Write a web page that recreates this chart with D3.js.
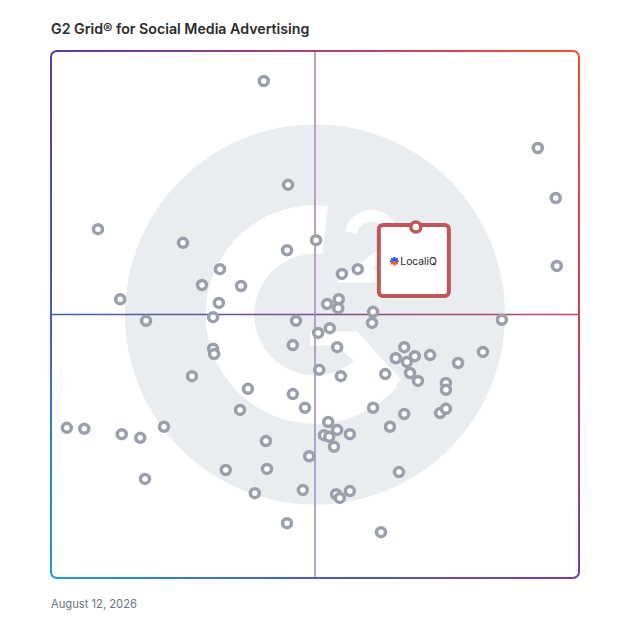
<!DOCTYPE html>
<html><head><meta charset="utf-8">
<script src="https://cdn.jsdelivr.net/npm/d3@7"></script>
<style>html,body{margin:0;padding:0;background:#fff;} svg{display:block;}</style>
</head><body><svg id="c" width="628" height="628"></svg>
<script>
const chartTitle = "G2 Grid® for Social Media Advertising";
const dateLabel = "August 12, 2026";
// x = satisfaction score, y = market presence score (0-100)
const satisfaction = [40.3,44.9,8.9,25.0,44.7,50.2,32.0,28.6,36.0,31.8,13.1,18.0,30.7,46.4,
  92.2,95.6,95.8,58.1,55.1,54.5,52.3,54.4,61.0,85.4,60.8,
  52.8,50.6,30.7,30.9,45.8,54.2,50.8,26.7,37.3,45.8,48.1,35.8,3.0,6.3,13.4,16.9,21.4,40.7,48.9,
  17.8,33.1,40.9,38.6,47.7,44.7,66.9,65.3,68.9,71.8,67.4,77.1,81.8,54.9,63.3,68.0,69.5,74.8,74.8,
  61.0,66.9,73.7,74.8,64.2,52.5,51.7,54.2,52.7,56.6,53.6,65.9,54.0,54.7,56.6,62.5];
const marketPresence = [94.3,74.6,66.2,63.6,62.2,64.1,58.6,55.6,55.4,52.2,52.9,48.8,49.5,48.8,
  81.6,72.1,59.2,58.6,57.7,52.9,52.0,51.2,50.5,49.0,48.4,
  47.4,46.5,43.5,42.5,44.2,43.8,39.5,38.3,35.9,34.9,32.3,31.9,28.5,28.3,27.3,26.6,28.7,26.0,23.1,
  18.8,20.5,20.7,16.1,16.7,10.4,43.8,41.7,42.1,42.3,41.0,40.8,42.9,38.3,38.7,38.9,37.4,37.0,35.7,
  32.3,31.1,31.3,32.1,28.7,29.6,27.1,28.1,26.8,27.3,24.9,20.1,15.9,15.2,16.5,8.7];
const highlightName = "LocaliQ";
const highlightSatisfaction = 69.1;
const highlightPresence = 66.6;

const points = satisfaction.map((s, i) => ({x: s, y: marketPresence[i]}));

const svg = d3.select("#c");
const x = d3.scaleLinear().domain([0, 100]).range([51, 579]);
const y = d3.scaleLinear().domain([0, 100]).range([578, 51]);
const L = x(0), R = x(100), T = y(100), B = y(0);
const cx = x(50), cy = y(50);

const defs = svg.append("defs");
function lg(id, x1, y1, x2, y2, stops) {
  const g = defs.append("linearGradient").attr("id", id).attr("gradientUnits", "userSpaceOnUse")
    .attr("x1", x1).attr("y1", y1).attr("x2", x2).attr("y2", y2);
  stops.forEach(([o, c]) => g.append("stop").attr("offset", o).attr("stop-color", c));
}
const cTL = "#5a3aa8", cTR = "#ff4b2b", cBR = "#7c3ca6", cBL = "#2299dc";
lg("gTop", L, T, R, T, [[0, cTL], [0.5, "#ab3f7c"], [1, cTR]]);
lg("gBot", L, B, R, B, [[0, cBL], [0.5, "#4a5cbc"], [1, cBR]]);
lg("gLeft", L, T, L, B, [[0, cTL], [0.5, "#3c63bc"], [1, cBL]]);
lg("gRight", R, T, R, B, [[0, cTR], [0.5, "#c9404e"], [1, cBR]]);
lg("gH", L, cy, R, cy, [[0, "#3b60b8"], [0.5, "#7c4a8c"], [1, "#c6455a"]]);
lg("gV", cx, T, cx, B, [[0, "#b47ea8"], [1, "#958ccc"]]);

// Title and date
svg.append("text").attr("x", 51).attr("y", 34).text(chartTitle)
  .attr("font-family", "Inter, 'Noto Sans', sans-serif").attr("font-weight", 600)
  .attr("font-size", 14.2).attr("fill", "#2b2b2b");
svg.append("text").attr("x", 51).attr("y", 608).text(dateLabel)
  .attr("font-family", "Inter, 'Noto Sans', sans-serif").attr("font-size", 11.2)
  .attr("fill", "#6b7280");

// Watermark (G2 logo)
const wm = svg.append("g");
const Rw = (R - L) * 0.36;
wm.append("circle").attr("cx", cx).attr("cy", cy).attr("r", Rw).attr("fill", "#eaedf0");
wm.append("path").attr("transform", `translate(${cx},${cy})`)
  .attr("d", d3.arc()({innerRadius: Rw * 0.32, outerRadius: Rw * 0.575, startAngle: 2.3, endAngle: 2 * Math.PI + 0.12}))
  .attr("fill", "#fff");
const bar = [[-5, 17], [42, 17], [86, 65], [74, 79], [22, 31], [-5, 31]];
wm.append("path").attr("transform", `translate(${cx},${cy})`)
  .attr("d", d3.line()(bar) + "Z").attr("fill", "#fff");
wm.append("path").attr("transform", `translate(${cx},${cy})`)
  .attr("d", "M36,-82 A21,21 0 1 1 74,-66 L38,-38 L92,-38")
  .attr("fill", "none").attr("stroke", "#fff").attr("stroke-width", 12);

// Mid lines
svg.append("line").attr("x1", L).attr("x2", R).attr("y1", cy).attr("y2", cy)
  .attr("stroke", "url(#gH)").attr("stroke-width", 1.5);
svg.append("line").attr("x1", cx).attr("x2", cx).attr("y1", T).attr("y2", B)
  .attr("stroke", "url(#gV)").attr("stroke-width", 1.5);

// Frame
const r = 6, sw = 2;
svg.append("path").attr("d", `M${L},${T + r} A${r},${r} 0 0 1 ${L + r},${T} H${R - r} A${r},${r} 0 0 1 ${R},${T + r}`)
  .attr("fill", "none").attr("stroke", "url(#gTop)").attr("stroke-width", sw);
svg.append("path").attr("d", `M${L},${B - r} A${r},${r} 0 0 0 ${L + r},${B} H${R - r} A${r},${r} 0 0 0 ${R},${B - r}`)
  .attr("fill", "none").attr("stroke", "url(#gBot)").attr("stroke-width", sw);
svg.append("path").attr("d", `M${L},${T + r} V${B - r}`)
  .attr("fill", "none").attr("stroke", "url(#gLeft)").attr("stroke-width", sw);
svg.append("path").attr("d", `M${R},${T + r} V${B - r}`)
  .attr("fill", "none").attr("stroke", "url(#gRight)").attr("stroke-width", sw);

// Points
svg.append("g").selectAll("circle").data(points).join("circle")
  .attr("cx", d => x(d.x)).attr("cy", d => y(d.y)).attr("r", 4.5)
  .attr("fill", "#fff").attr("stroke", "#9aa0ab").attr("stroke-width", 3.5);

// Highlighted product
const hx = x(highlightSatisfaction), hy = y(highlightPresence);
const hg = svg.append("g");
hg.append("rect").attr("x", hx - 37).attr("y", hy - 2).attr("width", 70).attr("height", 71)
  .attr("rx", 4).attr("fill", "#fff").attr("stroke", "#bf5759").attr("stroke-width", 4);
hg.append("circle").attr("cx", hx).attr("cy", hy).attr("r", 5)
  .attr("fill", "#fff").attr("stroke", "#bf5759").attr("stroke-width", 3.5);
const ic = hg.append("g").attr("transform", `translate(${hx - 21.5},${hy + 34.3})`);
[[0, -4.3], [3.2, -3], [-3.2, -3], [4.3, 0], [-4.3, 0]].forEach(([dx, dy]) =>
  ic.append("line").attr("x1", 0).attr("y1", 0).attr("x2", dx).attr("y2", dy)
    .attr("stroke", "#1f5bff").attr("stroke-width", 2.2));
[[0, 4.3], [3.2, 3], [-3.2, 3]].forEach(([dx, dy]) =>
  ic.append("line").attr("x1", 0).attr("y1", 0).attr("x2", dx).attr("y2", dy)
    .attr("stroke", "#ff5a1f").attr("stroke-width", 2.2));
hg.append("text").attr("x", hx - 15.5).attr("y", hy + 38).text(highlightName)
  .attr("font-family", "Inter, 'Noto Sans', sans-serif").attr("font-size", 10.3)
  .attr("fill", "#1e1e1e");
</script>
</body></html>
